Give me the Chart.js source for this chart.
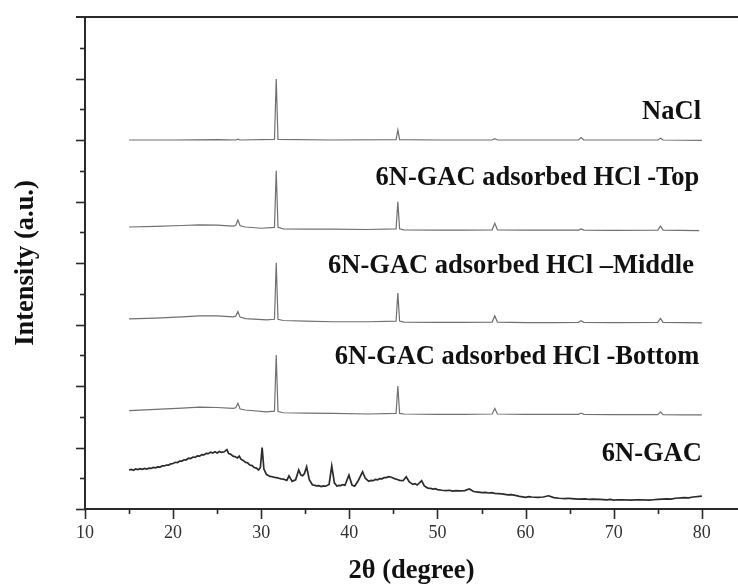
<!DOCTYPE html>
<html>
<head>
<meta charset="utf-8">
<title>XRD patterns</title>
<script src="https://cdn.jsdelivr.net/npm/chart.js@4.4.1/dist/chart.umd.min.js"></script>
<style>
  body { margin: 0; background: #fff; }
  #xrdChart { display: block; }
</style>
</head>
<body>
<canvas id="xrdChart" width="738" height="587"></canvas>
<script>
// stacked patterns, y in arbitrary units (each trace already offset)
const naclTheta = [15, 20, 25, 27.1, 27.35, 27.6, 31.5, 31.7, 31.9, 38, 45.3, 45.5, 45.7, 50, 56.2, 56.5, 56.8, 62, 66.0, 66.3, 66.6, 71, 75.0, 75.3, 75.6, 80];
const naclCounts = [12.00, 12.00, 12.01, 12.00, 12.03, 12.00, 12.02, 13.98, 12.02, 12.00, 12.01, 12.33, 12.01, 12.00, 12.00, 12.04, 12.00, 12.00, 12.00, 12.08, 12.00, 12.00, 12.00, 12.06, 12.00, 11.99];

const topTheta = [15, 18, 21, 23, 25, 26.8, 27.1, 27.35, 27.6, 28.2, 30, 31.5, 31.7, 31.9, 32.5, 35, 38, 42, 45.3, 45.5, 45.7, 46.2, 50, 53, 56.2, 56.5, 56.8, 60, 63, 66.0, 66.3, 66.6, 70, 75.0, 75.3, 75.6, 77.5, 79.7];
const topCounts = [9.17, 9.19, 9.22, 9.24, 9.23, 9.20, 9.22, 9.40, 9.21, 9.17, 9.13, 9.16, 11.00, 9.16, 9.11, 9.10, 9.10, 9.09, 9.11, 9.99, 9.11, 9.08, 9.07, 9.07, 9.08, 9.29, 9.08, 9.07, 9.07, 9.07, 9.11, 9.07, 9.06, 9.07, 9.20, 9.07, 9.06, 9.05];

const midTheta = [15, 18, 21, 23, 25, 26.8, 27.1, 27.35, 27.6, 28.2, 30.6, 31.5, 31.7, 31.9, 32.5, 35, 38.1, 42.2, 45.3, 45.5, 45.7, 46.2, 50, 53, 56.2, 56.5, 56.8, 60, 63, 66.0, 66.3, 66.6, 70, 75.0, 75.3, 75.6, 78, 80];
const midCounts = [6.18, 6.21, 6.25, 6.28, 6.28, 6.25, 6.27, 6.42, 6.24, 6.19, 6.15, 6.17, 8.01, 6.17, 6.13, 6.11, 6.09, 6.09, 6.11, 7.02, 6.11, 6.08, 6.07, 6.07, 6.08, 6.28, 6.08, 6.06, 6.06, 6.07, 6.12, 6.07, 6.06, 6.07, 6.20, 6.07, 6.06, 6.05];

const botTheta = [15, 18, 21, 23, 25, 26.8, 27.1, 27.35, 27.6, 28.2, 30.6, 31.5, 31.7, 31.9, 32.5, 35, 38.1, 42.2, 45.3, 45.5, 45.7, 46.2, 50, 53, 56.2, 56.5, 56.8, 60, 63, 66.0, 66.3, 66.6, 70, 75.0, 75.3, 75.6, 78, 80];
const botCounts = [3.20, 3.24, 3.28, 3.31, 3.30, 3.27, 3.29, 3.44, 3.25, 3.22, 3.16, 3.18, 5.01, 3.17, 3.13, 3.12, 3.11, 3.09, 3.11, 4.00, 3.11, 3.09, 3.08, 3.08, 3.09, 3.27, 3.09, 3.08, 3.08, 3.08, 3.12, 3.08, 3.07, 3.07, 3.16, 3.07, 3.06, 3.06];

const gacTheta = [15.0, 15.25, 15.5, 15.75, 16.0, 16.25, 16.5, 16.75, 17.0, 17.25, 17.5, 17.75, 18.0, 18.25, 18.5, 18.75, 19.0, 19.25, 19.5, 19.75, 20.0, 20.25, 20.5, 20.75, 21.0, 21.25, 21.5, 21.75, 22.0, 22.25, 22.5, 22.75, 23.0, 23.25, 23.5, 23.75, 24.0, 24.25, 24.5, 24.75, 25.0, 25.25, 25.5, 25.8, 26.1, 26.3, 26.55, 26.8, 27.05, 27.3, 27.5, 27.7, 27.95, 28.2, 28.45, 28.7, 28.95, 29.2, 29.45, 29.7, 29.9, 30.1, 30.3, 30.6, 30.8, 31.0, 31.25, 31.5, 31.75, 32.0, 32.25, 32.5, 32.7, 32.9, 33.15, 33.5, 33.9, 34.25, 34.5, 34.7, 34.9, 35.15, 35.45, 35.8, 36.05, 36.3, 36.55, 36.8, 37.05, 37.3, 37.7, 38.0, 38.3, 38.6, 38.8, 39.0, 39.25, 39.5, 39.95, 40.3, 40.6, 41.0, 41.5, 41.8, 42.2, 42.45, 42.7, 42.95, 43.2, 43.45, 43.7, 43.95, 44.2, 44.45, 44.7, 44.95, 45.2, 45.45, 45.7, 46.1, 46.45, 46.8, 47.2, 47.45, 47.7, 48.2, 48.5, 48.9, 49.2, 49.5, 49.75, 50.0, 50.5, 51.0, 51.35, 51.7, 52.1, 52.5, 53.1, 53.6, 54.1, 54.6, 55.1, 55.45, 55.8, 56.15, 56.5, 56.9, 57.3, 58.0, 58.35, 58.7, 59.3, 60.0, 60.35, 60.7, 61.4, 62.0, 62.6, 63.2, 63.8, 64.5, 64.85, 65.2, 66.0, 66.8, 67.2, 67.6, 68.4, 69.2, 69.6, 70.0, 70.5, 71.0, 72.0, 72.5, 73.0, 74.0, 74.5, 75.0, 76.0, 76.5, 77.0, 78.0, 78.5, 79.0, 80.0];
const gacCounts = [1.27, 1.29, 1.26, 1.30, 1.28, 1.31, 1.29, 1.32, 1.30, 1.33, 1.32, 1.35, 1.34, 1.37, 1.36, 1.40, 1.40, 1.43, 1.43, 1.47, 1.48, 1.52, 1.51, 1.56, 1.56, 1.60, 1.60, 1.65, 1.64, 1.69, 1.68, 1.73, 1.72, 1.77, 1.76, 1.81, 1.80, 1.85, 1.82, 1.86, 1.82, 1.87, 1.84, 1.86, 1.93, 1.80, 1.78, 1.72, 1.70, 1.66, 1.72, 1.62, 1.58, 1.52, 1.50, 1.43, 1.41, 1.35, 1.33, 1.27, 1.35, 2.00, 1.30, 1.12, 1.09, 1.06, 1.05, 1.03, 1.02, 1.00, 0.98, 0.97, 0.95, 0.93, 1.08, 0.90, 0.95, 1.27, 1.10, 1.08, 1.15, 1.37, 0.95, 0.79, 0.77, 0.75, 0.76, 0.73, 0.75, 0.74, 0.80, 1.40, 0.85, 0.74, 0.77, 0.76, 0.79, 0.77, 1.10, 0.78, 0.74, 0.92, 1.21, 1.00, 0.90, 0.93, 0.92, 0.96, 0.95, 0.99, 0.98, 1.02, 1.02, 1.05, 1.04, 1.01, 0.98, 0.96, 0.93, 0.92, 1.05, 0.88, 0.80, 0.82, 0.78, 0.92, 0.75, 0.68, 0.67, 0.65, 0.66, 0.63, 0.61, 0.60, 0.61, 0.58, 0.60, 0.59, 0.60, 0.65, 0.57, 0.55, 0.53, 0.54, 0.52, 0.53, 0.51, 0.50, 0.49, 0.46, 0.47, 0.45, 0.41, 0.38, 0.40, 0.39, 0.38, 0.39, 0.43, 0.37, 0.35, 0.34, 0.35, 0.34, 0.32, 0.33, 0.31, 0.32, 0.31, 0.30, 0.31, 0.29, 0.30, 0.30, 0.29, 0.30, 0.30, 0.29, 0.30, 0.31, 0.33, 0.32, 0.35, 0.37, 0.36, 0.39, 0.42];

// sample names, written at the right end above each pattern
const sampleNames = ['NaCl', '6N-GAC adsorbed HCl -Top', '6N-GAC adsorbed HCl \u2013Middle', '6N-GAC adsorbed HCl -Bottom', '6N-GAC'];
const nameTheta = [79.9, 79.7, 79.1, 79.7, 80.0];
const nameLevel = [12.68, 10.54, 7.67, 4.72, 1.57];

const xTickValues = [10, 15, 20, 25, 30, 35, 40, 45, 50, 55, 60, 65, 70, 75, 80];

const boldFont = { family: '"Liberation Serif", "Times New Roman", serif', size: 26.5, weight: 'bold' };

function toPoints(xs, ys) {
  var pts = [];
  for (var i = 0; i < xs.length; i++) {
    pts.push({ x: xs[i], y: ys[i] });
  }
  return pts;
}

// tick marks, top frame line and sample names
const decorPlugin = {
  id: 'decor',
  afterDraw(chart) {
    var ctx = chart.ctx;
    var area = chart.chartArea;
    var xs = chart.scales.x;
    var ys = chart.scales.y;
    ctx.save();
    ctx.strokeStyle = '#2a2a2a';
    ctx.lineWidth = 2;

    ctx.beginPath();
    ctx.moveTo(area.left - 9, area.top);
    ctx.lineTo(area.right, area.top);
    ctx.stroke();

    ctx.lineWidth = 1.6;
    for (var v = 0; v <= 15; v++) {
      var py = Math.round(ys.getPixelForValue(v)) + 0.5;
      var len = (v % 2 === 0) ? 9 : 5;
      ctx.beginPath();
      ctx.moveTo(area.left - len, py);
      ctx.lineTo(area.left, py);
      ctx.stroke();
    }
    for (var k = 0; k < xTickValues.length; k++) {
      var px = Math.round(xs.getPixelForValue(xTickValues[k])) + 0.5;
      var tl = (xTickValues[k] % 10 === 0) ? 10 : 5;
      ctx.beginPath();
      ctx.moveTo(px, area.bottom);
      ctx.lineTo(px, area.bottom + tl);
      ctx.stroke();
    }

    ctx.fillStyle = '#111';
    ctx.font = 'bold ' + boldFont.size + 'px ' + boldFont.family;
    ctx.textAlign = 'right';
    ctx.textBaseline = 'alphabetic';
    for (var n = 0; n < sampleNames.length; n++) {
      ctx.fillText(sampleNames[n], xs.getPixelForValue(nameTheta[n]), ys.getPixelForValue(nameLevel[n]));
    }
    ctx.restore();
  }
};

function createChart(chartId) {
  var ctx = document.getElementById(chartId).getContext('2d');
  var thin = { borderColor: '#707070', borderWidth: 1.2, pointRadius: 0, tension: 0, fill: false };

  var myChart = new Chart(ctx, {
    type: 'line',
    data: {
      datasets: [
        Object.assign({ label: sampleNames[0], data: toPoints(naclTheta, naclCounts) }, thin),
        Object.assign({ label: sampleNames[1], data: toPoints(topTheta, topCounts) }, thin),
        Object.assign({ label: sampleNames[2], data: toPoints(midTheta, midCounts) }, thin),
        Object.assign({ label: sampleNames[3], data: toPoints(botTheta, botCounts) }, thin),
        { label: sampleNames[4], data: toPoints(gacTheta, gacCounts), borderColor: '#2b2b2b', borderWidth: 1.7, pointRadius: 0, tension: 0, fill: false }
      ]
    },
    options: {
      responsive: false,
      animation: false,
      layout: { padding: { top: 17, left: 0, right: 0, bottom: 0 } },
      plugins: {
        legend: { display: false },
        tooltip: { enabled: false }
      },
      scales: {
        x: {
          type: 'linear',
          min: 10,
          max: 84.1,
          grid: { display: false, drawTicks: false },
          border: { display: true, color: '#2a2a2a', width: 2 },
          ticks: {
            stepSize: 10,
            includeBounds: false,
            padding: 13,
            color: '#333',
            font: { family: '"Liberation Serif", "Times New Roman", serif', size: 18 },
            maxRotation: 0,
            autoSkip: false
          },
          title: {
            display: true,
            text: '2\u03b8 (degree)',
            color: '#111',
            font: boldFont,
            padding: { top: 0, bottom: 0 }
          },
          afterFit: function(scale) { scale.height = 78; }
        },
        y: {
          type: 'linear',
          min: 0,
          max: 16,
          grid: { display: false, drawTicks: false },
          border: { display: true, color: '#2a2a2a', width: 2 },
          ticks: { display: false },
          title: {
            display: true,
            text: 'Intensity (a.u.)',
            color: '#111',
            font: boldFont,
            padding: { top: 10, bottom: 0 }
          },
          afterFit: function(scale) { scale.width = 85; }
        }
      }
    },
    plugins: [decorPlugin]
  });

  return myChart;
}

createChart('xrdChart');
</script>
</body>
</html>
